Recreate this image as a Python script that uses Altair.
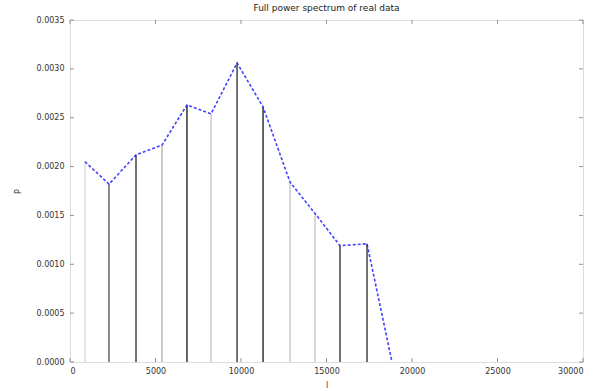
import altair as alt
import pandas as pd

# Binned multipole centres and band power
ell = [877, 2280, 3860, 5380, 6840, 8250, 9770, 11290, 12870, 14330, 15790, 17370, 18830]
power = [0.00205, 0.00182, 0.00212, 0.00222, 0.00263, 0.00254, 0.00306,
         0.00261, 0.00184, 0.00152, 0.00119, 0.00121, 0.0]

x_ticks = [0, 5000, 10000, 15000, 20000, 25000, 30000]
y_ticks = [0.0, 0.0005, 0.001, 0.0015, 0.002, 0.0025, 0.003, 0.0035]

# stem shading per band (last band has no stem)
stem_colors = ["#dddddd", "#666666", "#444444", "#bbbbbb", "#333333", "#cccccc",
               "#444444", "#333333", "#cccccc", "#cccccc", "#444444", "#444444"]

df = pd.DataFrame({"l": ell, "P": power})
stems = pd.DataFrame({"l": ell[:-1], "P": power[:-1], "shade": stem_colors})

W, H = 513, 342
xs = alt.Scale(domain=[0, 30000], nice=False, zero=False)
ys = alt.Scale(domain=[0, 0.0035], nice=False)
font = "DejaVu Sans"

x_axis = alt.Axis(values=x_ticks, format="d", ticks=False, domain=False, grid=False,
                  labelFontSize=8, labelColor="#333", labelFont=font, labelPadding=5,
                  title="l", titleFontSize=8, titleFont=font, titleFontWeight="normal",
                  titleColor="#333", titlePadding=6)
y_axis = alt.Axis(values=y_ticks, format=".4f", ticks=False, domain=False, grid=False,
                  labelFontSize=8, labelColor="#333", labelFont=font, labelPadding=6,
                  title="P", titleFontSize=8, titleFont=font, titleFontWeight="normal",
                  titleColor="#333", titlePadding=14)

base = alt.Chart(df)

stem_layer = alt.Chart(stems).mark_rule(strokeWidth=1.5).encode(
    x=alt.X("l:Q", scale=xs, axis=x_axis),
    y=alt.Y("P:Q", scale=ys, axis=y_axis),
    y2=alt.datum(0),
    color=alt.Color("shade:N", scale=None, legend=None),
)

line_layer = base.mark_line(color="#2222ff", strokeWidth=1.6, strokeDash=[3, 2],
                            opacity=0.85).encode(
    x=alt.X("l:Q", scale=xs),
    y=alt.Y("P:Q", scale=ys),
)

# inward tick marks on all four sides
xt = pd.DataFrame({"v": x_ticks})
yt = pd.DataFrame({"v": y_ticks})
tick_style = dict(color="#666", thickness=1, size=4)
x_bottom = alt.Chart(xt).mark_tick(orient="vertical", **tick_style).encode(
    x=alt.X("v:Q", scale=xs), y=alt.value(H - 2))
x_top = alt.Chart(xt).mark_tick(orient="vertical", **tick_style).encode(
    x=alt.X("v:Q", scale=xs), y=alt.value(2))
y_left = alt.Chart(yt).mark_tick(orient="horizontal", **tick_style).encode(
    y=alt.Y("v:Q", scale=ys), x=alt.value(2))
y_right = alt.Chart(yt).mark_tick(orient="horizontal", **tick_style).encode(
    y=alt.Y("v:Q", scale=ys), x=alt.value(W - 2))

chart = alt.layer(stem_layer, line_layer, x_bottom, x_top, y_left, y_right).properties(
    width=W, height=H,
    title=alt.TitleParams("Full power spectrum of real data", fontSize=9, font=font,
                          fontWeight="normal", color="#222", offset=3),
    autosize=alt.AutoSizeParams(type="none"),
    padding={"left": 70, "top": 20, "right": 16, "bottom": 29},
).configure_view(stroke="#555", strokeWidth=1.5).configure(background="white")

chart.save("out.html", embed_options={"renderer": "svg", "actions": False})
